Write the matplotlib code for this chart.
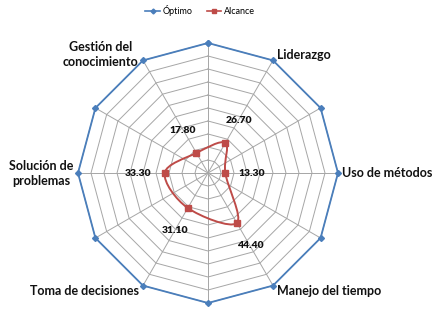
import numpy as np
import matplotlib
matplotlib.use("Agg")
import matplotlib.pyplot as plt
from matplotlib.path import Path
from matplotlib.patches import PathPatch
from matplotlib.lines import Line2D

categories = ["", "Liderazgo", "", "Uso de métodos", "", "Manejo del tiempo", "",
              "Toma de decisiones", "", "Solución de\nproblemas", "", "Gestión del\nconocimiento"]
optimo = [100] * 12
alcance = [None, 26.70, None, 13.30, None, 44.40, None, 31.10, None, 33.30, None, 17.80]
series_names = ["Óptimo", "Alcance"]
r_max = 100
ring_step = 10

plt.rcParams['font.family'] = ['Lato', 'DejaVu Sans']

fig = plt.figure(figsize=(4.38, 3.09), dpi=100)
ax = fig.add_axes([0, 0, 1, 1])
px = r_max / 130.0
cx, cy = 208, 173
ax.set_xlim(-cx * px, (438 - cx) * px)
ax.set_ylim(-(309 - cy) * px, cy * px)
ax.axis('off')

n = len(categories)
theta = np.arange(n) * 2 * np.pi / n


def xy(r, t):
    return np.asarray(r) * np.sin(t), np.asarray(r) * np.cos(t)


grid_col = '#a6a6a6'
closed = np.append(theta, theta[0])
for r in np.arange(ring_step, r_max + 1, ring_step):
    x, y = xy(r, closed)
    ax.plot(x, y, color=grid_col, lw=0.7, zorder=1)
for t in theta:
    x, y = xy(np.array([0, r_max]), t)
    ax.plot(x, y, color=grid_col, lw=0.7, zorder=1)

blue = '#4a7ebb'
red = '#be4b48'

ox, oy = xy(np.array(optimo + [optimo[0]]), closed)
ax.plot(ox, oy, color=blue, lw=1.3, marker='D', ms=3, zorder=3)

idx = [i for i, v in enumerate(alcance) if v is not None]
pts = np.array([xy(alcance[i], theta[i]) for i in idx])
m = len(pts)
verts = [pts[0]]
codes = [Path.MOVETO]
for i in range(m):
    p0, p1, p2, p3 = pts[i - 1], pts[i], pts[(i + 1) % m], pts[(i + 2) % m]
    verts += [p1 + (p2 - p0) / 6, p2 - (p3 - p1) / 6, p2]
    codes += [Path.CURVE4] * 3
ax.add_patch(PathPatch(Path(verts, codes), fill=False, edgecolor=red, lw=1.4, zorder=4))
ax.plot(pts[:, 0], pts[:, 1], ls='none', marker='s', ms=5, color=red, zorder=5)

# data labels
for k, i in enumerate(idx):
    t = theta[i]
    d = 19
    ax.annotate(f"{alcance[i]:.2f}", xy=pts[k], xytext=(d * np.sin(t), d * np.cos(t)),
                textcoords='offset points', ha='center', va='center',
                fontsize=7.5, fontweight='heavy', color='#111111', zorder=6)

# category labels
for i, lab in enumerate(categories):
    if not lab:
        continue
    t = theta[i]
    s = np.sin(t)
    if s > 0.1:
        ha = 'left'
    elif s < -0.1:
        ha = 'right'
    else:
        ha = 'center'
    c = np.cos(t)
    off = (3 * np.sign(s) if abs(s) > 0.1 else 0, 4 * np.sign(c) if abs(c) > 0.1 else 0)
    ax.annotate(lab, xy=xy(r_max, t), xytext=off, textcoords='offset points',
                ha=ha, va='center', multialignment='center', linespacing=1.3,
                fontsize=9, fontweight='bold', color='#111111', zorder=6)

handles = [Line2D([], [], color=blue, lw=1.2, marker='D', ms=2.5),
           Line2D([], [], color=red, lw=1.2, marker='s', ms=3.5)]
fig.legend(handles, series_names, loc='upper center', bbox_to_anchor=(0.457, 1.01),
           ncol=2, frameon=False, fontsize=6.5, handlelength=1.6, columnspacing=1.6,
           handletextpad=0.3)

fig.savefig('out.png', dpi=100)
